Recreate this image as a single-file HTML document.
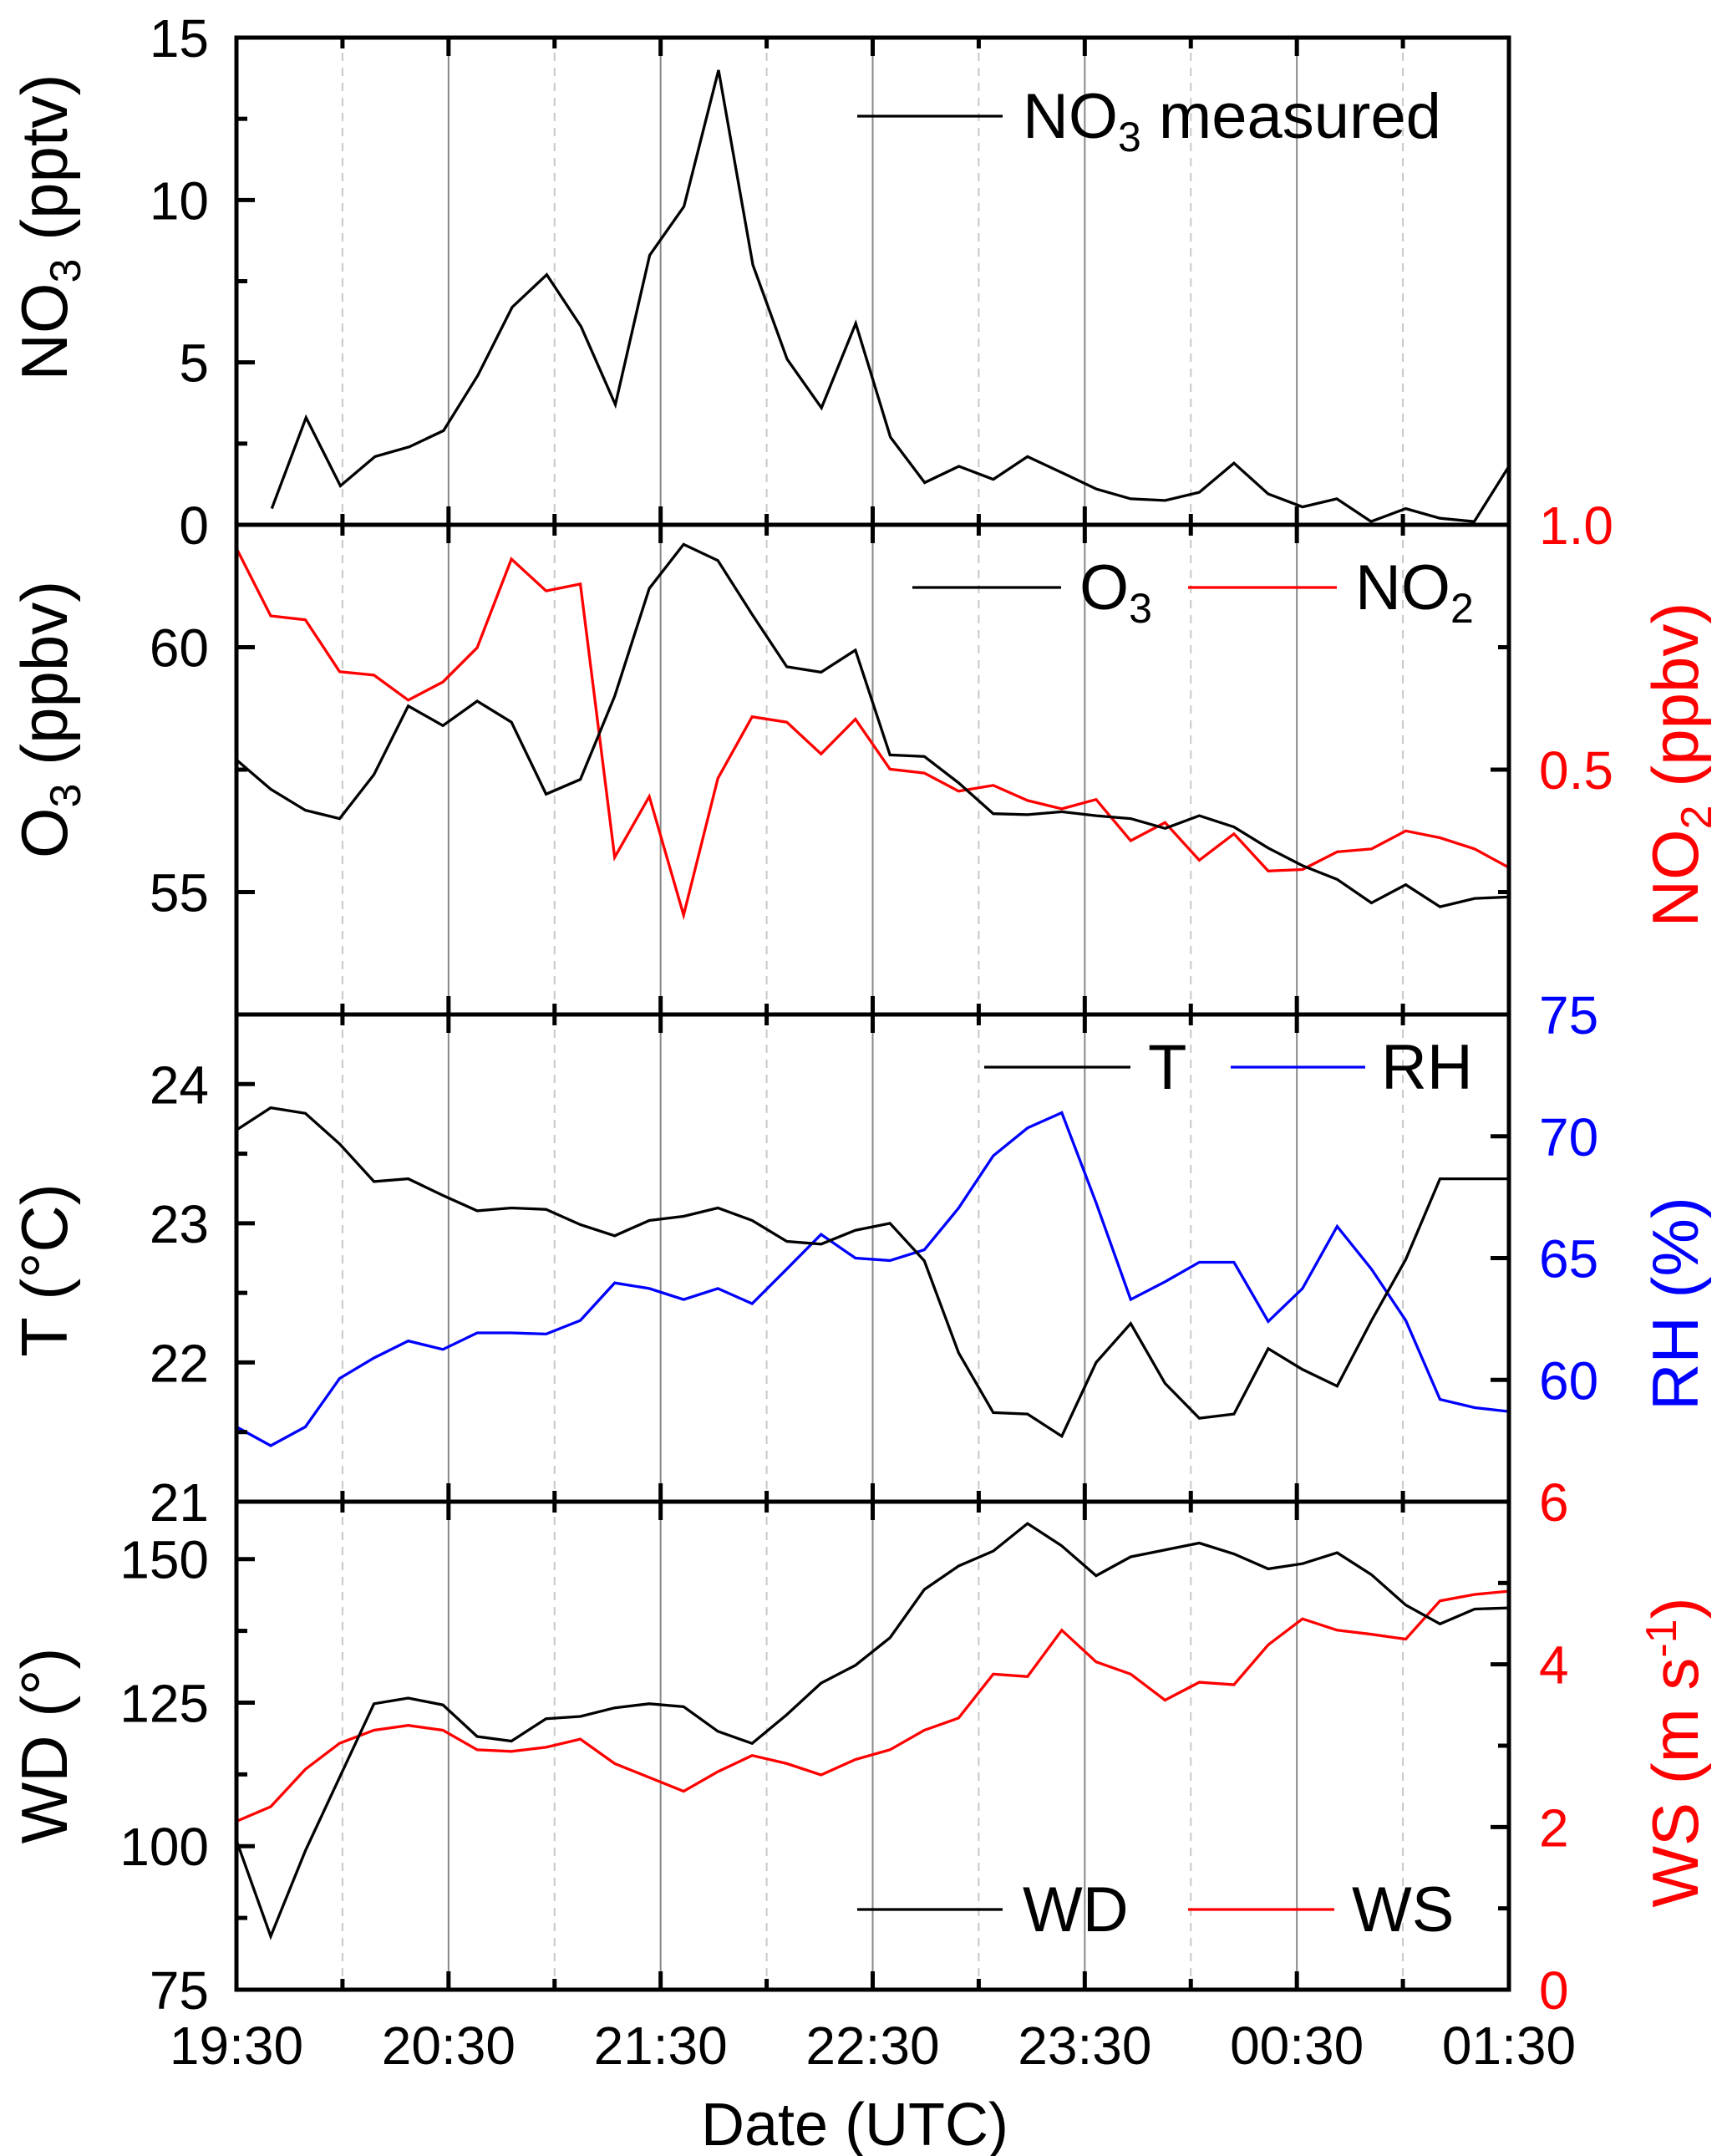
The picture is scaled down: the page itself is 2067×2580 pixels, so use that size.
<!DOCTYPE html>
<html><head><meta charset="utf-8"><style>
html,body{margin:0;padding:0;background:#fff}
svg{display:block;font-family:"Liberation Sans",sans-serif}
</style></head><body>
<svg id="chart" width="2067" height="2580" viewBox="0 0 2067 2580" xmlns="http://www.w3.org/2000/svg"></svg>
<script>
// ---- data ----
const xTickLabels = ["19:30","20:30","21:30","22:30","23:30","00:30","01:30"];
const tNO3 = [10,19.7,29.4,39.2,48.9,58.6,68.3,78,87.8,97.5,107.2,116.9,126.6,136.4,146.1,155.8,165.5,175.2,185,194.7,204.4,214.1,223.8,233.6,243.3,253,262.7,272.4,282.2,291.9,301.6,311.3,321,330.8,340.5,350.2,360];
const no3 = [0.5,3.3,1.2,2.1,2.4,2.9,4.6,6.7,7.7,6.1,3.7,8.3,9.8,14.0,8.0,5.1,3.6,6.2,2.7,1.3,1.8,1.4,2.1,1.6,1.1,0.8,0.75,1.0,1.9,0.95,0.55,0.8,0.1,0.5,0.2,0.1,1.8];
const tMet = [0,9.7,19.5,29.2,38.9,48.6,58.4,68.1,77.8,87.6,97.3,107,116.8,126.5,136.2,145.9,155.7,165.4,175.1,184.9,194.6,204.3,214.1,223.8,233.5,243.2,253,262.7,272.4,282.2,291.9,301.6,311.4,321.1,330.8,340.5,350.3,360];
const o3 = [57.7,57.1,56.67,56.5,57.4,58.8,58.4,58.9,58.47,57.0,57.3,59.0,61.2,62.1,61.77,60.67,59.6,59.49,59.94,57.8,57.77,57.23,56.6,56.58,56.64,56.56,56.5,56.3,56.56,56.33,55.9,55.54,55.26,54.78,55.15,54.7,54.87,54.9];
const no2 = [0.952,0.814,0.806,0.70,0.693,0.642,0.679,0.749,0.93,0.865,0.879,0.321,0.445,0.203,0.482,0.608,0.597,0.532,0.603,0.501,0.493,0.456,0.468,0.437,0.42,0.439,0.355,0.392,0.315,0.369,0.293,0.296,0.332,0.338,0.375,0.361,0.338,0.30];
const temp = [23.67,23.83,23.79,23.57,23.3,23.32,23.2,23.09,23.11,23.1,22.99,22.91,23.02,23.05,23.11,23.02,22.87,22.85,22.95,23.0,22.73,22.07,21.64,21.63,21.47,22.0,22.28,21.85,21.6,21.63,22.1,21.95,21.83,22.3,22.74,23.32,23.32,23.32];
const rh = [58.07,57.3,58.07,60.06,60.9,61.6,61.25,61.93,61.93,61.88,62.44,63.98,63.75,63.3,63.75,63.13,64.55,65.97,65.0,64.9,65.34,67.05,69.2,70.34,70.97,67.27,63.3,64.03,64.83,64.83,62.4,63.75,66.3,64.55,62.44,59.2,58.86,58.7];
const wd = [101,84.3,99.2,112,124.8,125.8,124.6,119.1,118.3,122.2,122.6,124.1,124.8,124.3,120,117.9,122.9,128.4,131.5,136.3,144.7,148.8,151.4,156.2,152.3,147.1,150.4,151.6,152.8,150.9,148.3,149.2,151.1,147.3,142,138.7,141.3,141.5];
const ws = [2.07,2.25,2.71,3.03,3.19,3.25,3.19,2.95,2.93,2.98,3.08,2.78,2.61,2.44,2.68,2.88,2.78,2.64,2.83,2.95,3.19,3.34,3.88,3.85,4.42,4.03,3.88,3.56,3.78,3.75,4.24,4.56,4.42,4.37,4.31,4.78,4.86,4.9];

// ---- layout ----
const svg = document.getElementById('chart');
const NS = 'http://www.w3.org/2000/svg';
const X0 = 283, X1 = 1806;
const PY = [45, 628, 1214, 1797, 2381];
const xs = m => X0 + (X1 - X0) * m / 360;
function lin(d0, d1, r0, r1){ return v => r0 + (v - d0) * (r1 - r0) / (d1 - d0); }
function el(tag, attrs, parent){
  const e = document.createElementNS(NS, tag);
  for (const k in attrs) e.setAttribute(k, attrs[k]);
  (parent || svg).appendChild(e);
  return e;
}
function txt(s, x, y, size, fill, anchor){
  const t = el('text', {x:x, y:y, 'font-size':size, fill:fill||'#000', 'text-anchor':anchor||'middle'});
  t.textContent = s;
  return t;
}
function series(times, vals, sy, color, name){
  const pts = vals.map((v,i)=> xs(times[i]).toFixed(1)+','+sy(v).toFixed(1)).join(' ');
  const p = el('polyline', {points:pts, fill:'none', stroke:color, 'stroke-width':3.3, 'stroke-linejoin':'miter'});
  
  
}

// grid lines
for (let p = 0; p < 4; p++){
  for (let h = 1; h < 12; h++){
    const x = xs(h*30);
    const g = el('line', {x1:x, x2:x, y1:PY[p], y2:PY[p+1], stroke: h%2===0 ? '#888' : '#c8c8c8', 'stroke-width': 2, 'stroke-dasharray': h%2===0 ? 'none' : '10,8'});
    
    
  }
}

// scales
const sNO3 = lin(0, 15, PY[1], PY[0]);
const sO3 = lin(52.5, 62.5, PY[2], PY[1]);
const sNO2 = lin(0, 1, PY[2], PY[1]);
const sT = lin(21, 24.5, PY[3], PY[2]);
const sRH = lin(55, 75, PY[3], PY[2]);
const sWD = lin(75, 160, PY[4], PY[3]);
const sWS = lin(0, 6, PY[4], PY[3]);

// series
series(tNO3, no3, sNO3, '#000', 'no3-line');
series(tMet, no2, sNO2, '#ff0000', 'no2-line');
series(tMet, o3, sO3, '#000', 'o3-line');
series(tMet, rh, sRH, '#0000ff', 'rh-line');
series(tMet, temp, sT, '#000', 't-line');
series(tMet, ws, sWS, '#ff0000', 'ws-line');
series(tMet, wd, sWD, '#000', 'wd-line');

// frames and x ticks
for (let p = 0; p < 4; p++){
  const f = el('rect', {x:X0, y:PY[p], width:X1-X0, height:PY[p+1]-PY[p], fill:'none', stroke:'#000', 'stroke-width':5});
  
  
  for (let h = 1; h < 12; h++){
    const x = xs(h*30), L = h%2===0 ? 22 : 13;
    el('line', {x1:x, x2:x, y1:PY[p+1], y2:PY[p+1]-L, stroke:'#000', 'stroke-width':5});
    el('line', {x1:x, x2:x, y1:PY[p], y2:PY[p]+L, stroke:'#000', 'stroke-width':5});
  }
}

// y ticks
function leftAxis(vals, minors, sc, labelsColor){
  vals.forEach(v=>{
    const y = sc(v);
    el('line', {x1:X0, x2:X0+22, y1:y, y2:y, stroke:'#000', 'stroke-width':5});
    const t = txt(String(v), 250, y+23, 64, labelsColor, 'end');
    
    
  });
  minors.forEach(v=>{ const y = sc(v); el('line', {x1:X0, x2:X0+13, y1:y, y2:y, stroke:'#000', 'stroke-width':5}); });
}
function rightAxis(vals, labels, minors, sc, color){
  vals.forEach((v,i)=>{
    const y = sc(v);
    el('line', {x1:X1, x2:X1-22, y1:y, y2:y, stroke:'#000', 'stroke-width':5});
    if (labels[i] !== '') {
      const t = txt(labels[i], 1842, y+23, 64, color, 'start');
      
      
    }
  });
  minors.forEach(v=>{ const y = sc(v); el('line', {x1:X1, x2:X1-13, y1:y, y2:y, stroke:'#000', 'stroke-width':5}); });
}
leftAxis([0,5,10,15], [2.5,7.5,12.5], sNO3, '#000');
leftAxis([55,60], [52.5,57.5], sO3, '#000');
rightAxis([0.5,1.0], ['0.5','1.0'], [0.25,0.75], sNO2, '#ff0000');
leftAxis([21,22,23,24], [21.5,22.5,23.5], sT, '#000');
rightAxis([60,65,70,75], ['60','65','70','75'], [], sRH, '#0000ff');
leftAxis([75,100,125,150], [87.5,112.5,137.5], sWD, '#000');
rightAxis([0,2,4,6], ['0','2','4','6'], [1,3,5], sWS, '#ff0000');

// x tick labels
xTickLabels.forEach((l,i)=>{
  const t = txt(l, xs(i*60), 2470, 64, '#000', 'middle');
  
  
});
</script>
<svg style="position:absolute;left:0;top:0" width="2067" height="2580" viewBox="0 0 2067 2580" font-family="Liberation Sans, sans-serif">
  <text x="1023" y="2567" font-size="72" text-anchor="middle">Date (UTC)</text>
  <text transform="translate(80,272) rotate(-90)" font-size="78" text-anchor="middle">NO<tspan font-size="52" dy="16">3</tspan><tspan dy="-16"> (pptv)</tspan></text>
  <text transform="translate(80,861) rotate(-90)" font-size="78" text-anchor="middle">O<tspan font-size="52" dy="16">3</tspan><tspan dy="-16"> (ppbv)</tspan></text>
  <text transform="translate(2032,915) rotate(-90)" font-size="78" text-anchor="middle" fill="#ff0000">NO<tspan font-size="52" dy="16">2</tspan><tspan dy="-16"> (ppbv)</tspan></text>
  <text transform="translate(80,1520) rotate(-90)" font-size="78" text-anchor="middle">T (°C)</text>
  <text transform="translate(2032,1560) rotate(-90)" font-size="78" text-anchor="middle" fill="#0000ff">RH (%)</text>
  <text transform="translate(80,2089) rotate(-90)" font-size="78" text-anchor="middle">WD (°)</text>
  <text transform="translate(2032,2097) rotate(-90)" font-size="78" text-anchor="middle" fill="#ff0000">WS (m s<tspan font-size="52" dy="-26">-1</tspan><tspan dy="26">)</tspan></text>

  <g>
    <line x1="1026" x2="1200" y1="139" y2="139" stroke="#000" stroke-width="3.3"/>
    <text x="1224" y="165" font-size="76">NO<tspan font-size="50" dy="16">3</tspan><tspan dy="-16"> measured</tspan></text>
  </g>
  <g>
    <line x1="1092" x2="1270" y1="703" y2="703" stroke="#000" stroke-width="3.3"/>
    <text x="1292" y="729" font-size="76">O<tspan font-size="50" dy="16">3</tspan></text>
  </g>
  <g>
    <line x1="1422" x2="1600" y1="703" y2="703" stroke="#ff0000" stroke-width="3.3"/>
    <text x="1622" y="729" font-size="76">NO<tspan font-size="50" dy="16">2</tspan></text>
  </g>
  <g>
    <line x1="1178" x2="1353" y1="1277" y2="1277" stroke="#000" stroke-width="3.3"/>
    <text x="1374" y="1303" font-size="76">T</text>
  </g>
  <g>
    <line x1="1473" x2="1634" y1="1277" y2="1277" stroke="#0000ff" stroke-width="3.3"/>
    <text x="1653" y="1303" font-size="76">RH</text>
  </g>
  <g>
    <line x1="1026" x2="1200" y1="2285" y2="2285" stroke="#000" stroke-width="3.3"/>
    <text x="1224" y="2311" font-size="76">WD</text>
  </g>
  <g>
    <line x1="1422" x2="1597" y1="2285" y2="2285" stroke="#ff0000" stroke-width="3.3"/>
    <text x="1618" y="2311" font-size="76">WS</text>
  </g>
</svg>
</body></html>
